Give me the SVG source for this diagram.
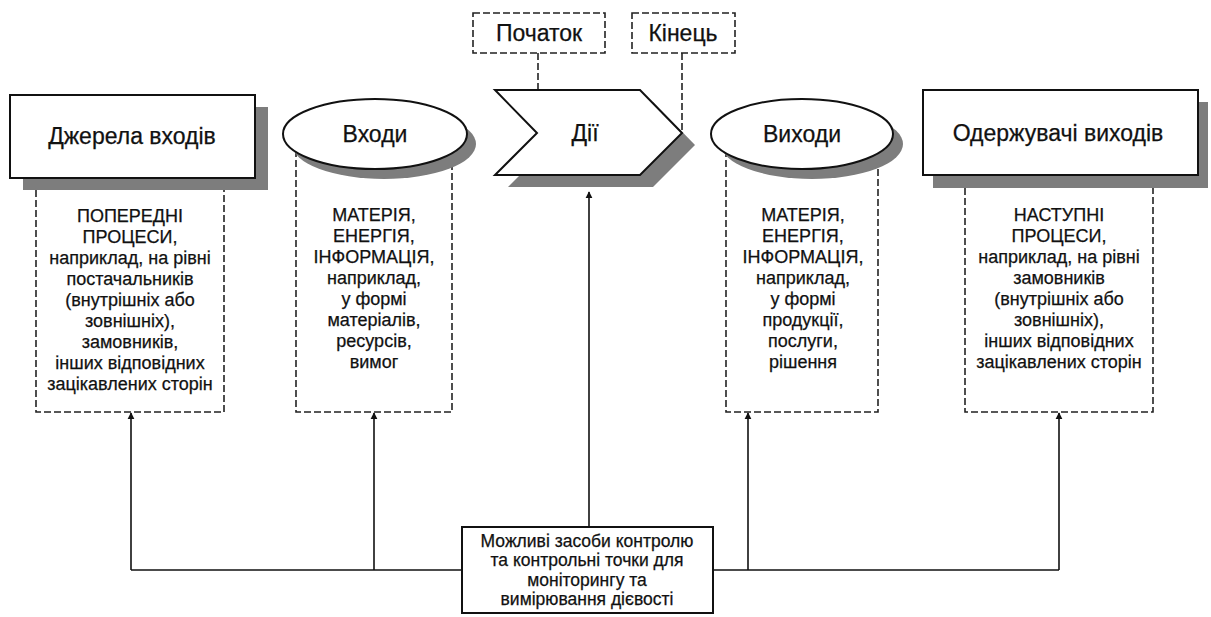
<svg xmlns="http://www.w3.org/2000/svg" width="1211" height="617" viewBox="0 0 1211 617">
<style>
.t{font-family:"Liberation Sans",Arial,sans-serif;fill:#111;text-anchor:middle;stroke:#111;stroke-width:0.25}
.title{font-size:23px}
.col{font-size:18px}
.bot{font-size:17.5px}
.solid{fill:#fff;stroke:#111;stroke-width:2}
.shadow{fill:#7d7d7d}
.dash{fill:none;stroke:#222;stroke-width:1.6;stroke-dasharray:7 3}
.dashbox{fill:#fff;stroke:#222;stroke-width:1.6;stroke-dasharray:7 3}
.line{fill:none;stroke:#111;stroke-width:1.6}
</style>
<defs>
<marker id="ah" viewBox="0 0 10 10" refX="9" refY="5" markerWidth="7" markerHeight="9" orient="auto" markerUnits="userSpaceOnUse">
<path d="M0,0 L10,5 L0,10 z" fill="#111"/>
</marker>
</defs>
<rect width="1211" height="617" fill="#fff"/>

<g id="connectors">
<path class="dash" d="M538,53 V133"/>
<path class="dash" d="M682,53 V133"/>
<path class="line" d="M131,570 H462"/>
<path class="line" d="M713,570 H1059"/>
<path class="line" d="M131,570 V413" marker-end="url(#ah)"/>
<path class="line" d="M374,570 V413" marker-end="url(#ah)"/>
<path class="line" d="M748,570 V413" marker-end="url(#ah)"/>
<path class="line" d="M1059,570 V413" marker-end="url(#ah)"/>
<path class="line" d="M589,527 V192" marker-end="url(#ah)"/>
</g>

<g id="col-sources">
<path class="dash" d="M36,190 V412 H224 V190"/>
<text class="t col"><tspan x="130" y="222">ПОПЕРЕДНІ</tspan><tspan x="130" y="243">ПРОЦЕСИ,</tspan><tspan x="130" y="264">наприклад, на рівні</tspan><tspan x="130" y="285">постачальників</tspan><tspan x="130" y="306">(внутрішніх або</tspan><tspan x="130" y="327">зовнішніх),</tspan><tspan x="130" y="348">замовників,</tspan><tspan x="130" y="369">інших відповідних</tspan><tspan x="130" y="390">зацікавлених сторін</tspan></text>
</g>

<g id="col-inputs">
<path class="dash" d="M296,150 V412 H452 V150"/>
<text class="t col"><tspan x="374" y="221">МАТЕРІЯ,</tspan><tspan x="374" y="242">ЕНЕРГІЯ,</tspan><tspan x="374" y="263">ІНФОРМАЦІЯ,</tspan><tspan x="374" y="284">наприклад,</tspan><tspan x="374" y="305">у формі</tspan><tspan x="374" y="326">матеріалів,</tspan><tspan x="374" y="347">ресурсів,</tspan><tspan x="374" y="368">вимог</tspan></text>
</g>

<g id="col-outputs">
<path class="dash" d="M726,150 V412 H878 V150"/>
<text class="t col"><tspan x="803" y="221">МАТЕРІЯ,</tspan><tspan x="803" y="242">ЕНЕРГІЯ,</tspan><tspan x="803" y="263">ІНФОРМАЦІЯ,</tspan><tspan x="803" y="284">наприклад,</tspan><tspan x="803" y="305">у формі</tspan><tspan x="803" y="326">продукції,</tspan><tspan x="803" y="347">послуги,</tspan><tspan x="803" y="368">рішення</tspan></text>
</g>

<g id="col-receivers">
<path class="dash" d="M965,188 V412 H1153 V188"/>
<text class="t col"><tspan x="1059" y="221">НАСТУПНІ</tspan><tspan x="1059" y="242">ПРОЦЕСИ,</tspan><tspan x="1059" y="263">наприклад, на рівні</tspan><tspan x="1059" y="284">замовників</tspan><tspan x="1059" y="305">(внутрішніх або</tspan><tspan x="1059" y="326">зовнішніх),</tspan><tspan x="1059" y="347">інших відповідних</tspan><tspan x="1059" y="368">зацікавлених сторін</tspan></text>
</g>

<g id="node-sources">
<rect class="shadow" x="23" y="107" width="245" height="83"/>
<rect class="solid" x="10" y="95" width="245" height="83"/>
<text class="t title" x="132" y="144">Джерела входів</text>
</g>

<g id="node-inputs">
<ellipse class="shadow" cx="384" cy="144" rx="92" ry="35"/>
<ellipse class="solid" cx="375" cy="134" rx="92" ry="35"/>
<text class="t title" x="375" y="142">Входи</text>
</g>

<g id="node-actions">
<polygon class="shadow" points="508,102 653,102 695,145 653,187 508,187 550,145"/>
<polygon class="solid" points="495,90 640,90 682,133 640,175 495,175 537,133"/>
<text class="t title" x="585" y="141">Дії</text>
</g>

<g id="node-start">
<rect class="dashbox" x="473" y="13" width="132" height="40"/>
<text class="t title" x="539" y="41">Початок</text>
</g>

<g id="node-end">
<rect class="dashbox" x="632" y="13" width="103" height="40"/>
<text class="t title" x="683" y="41">Кінець</text>
</g>

<g id="node-outputs">
<ellipse class="shadow" cx="812" cy="144" rx="91" ry="35"/>
<ellipse class="solid" cx="802" cy="134" rx="91" ry="35"/>
<text class="t title" x="802" y="142">Виходи</text>
</g>

<g id="node-receivers">
<rect class="shadow" x="933" y="102" width="275" height="86"/>
<rect class="solid" x="923" y="90" width="275" height="85"/>
<text class="t title" x="1058" y="141">Одержувачі виходів</text>
</g>

<g id="node-control">
<rect class="solid" x="462" y="527" width="251" height="86"/>
<text class="t bot"><tspan x="587" y="547">Можливі засоби контролю</tspan><tspan x="587" y="566">та контрольні точки для</tspan><tspan x="587" y="586">моніторингу та</tspan><tspan x="587" y="605">вимірювання дієвості</tspan></text>
</g>
</svg>
